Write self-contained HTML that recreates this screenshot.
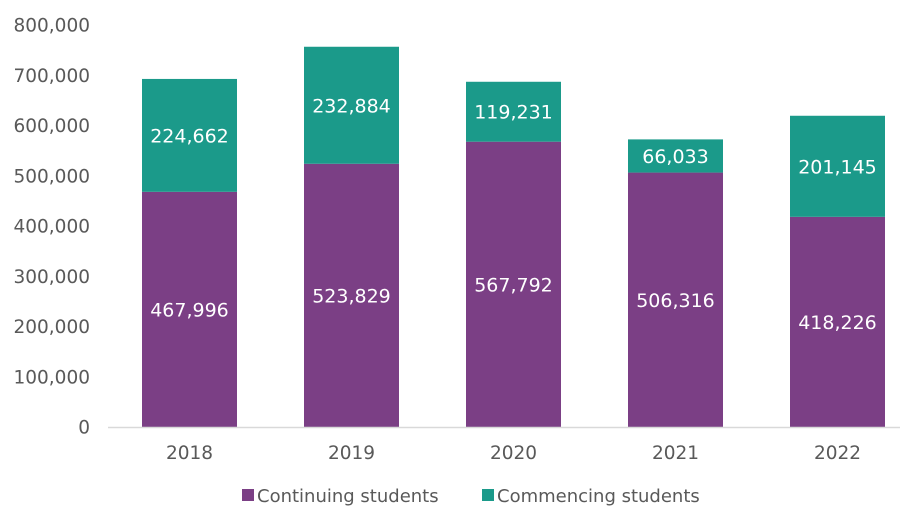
<!DOCTYPE html>
<html><head><meta charset="utf-8"><style>
body{margin:0;background:#fff;}
svg{display:block;font-family:"DejaVu Sans","Liberation Sans",sans-serif;}
</style></head><body>
<svg id="chart" width="900" height="524"></svg>
<script>
const categories=["2018","2019","2020","2021","2022"];
const continuing=[467996,523829,567792,506316,418226];
const commencing=[224662,232884,119231,66033,201145];
const yTicks=[0,100000,200000,300000,400000,500000,600000,700000,800000];
const NS="http://www.w3.org/2000/svg";
const svg=document.getElementById('chart');
const y0=427,y1=25,yMax=800000,xStart=108.5,step=162,barW=95;
const y=v=>y0-(v/yMax)*(y0-y1);
const xc=i=>xStart+step*(i+0.5);
const fmt=v=>v.toLocaleString('en-US');
function mk(tag,attrs,text){const e=document.createElementNS(NS,tag);for(const k in attrs)e.setAttribute(k,attrs[k]);if(text!==undefined)e.textContent=text;svg.appendChild(e);return e;}
yTicks.forEach(t=>{
  const e=mk('text',{x:90,y:y(t)+6.5,'text-anchor':'end','font-size':18.5,fill:'#595959'},fmt(t));
  
  
});
categories.forEach((c,i)=>{
  const x=xc(i)-barW/2;
  const b1=mk('rect',{x:x,y:y(continuing[i]),width:barW,height:y0-y(continuing[i]),fill:'#7b3f85'});
  
  
  const top=continuing[i]+commencing[i];
  const b2=mk('rect',{x:x,y:y(top),width:barW,height:y(continuing[i])-y(top),fill:'#1b9a8a'});
  
  
  const l1=mk('text',{x:xc(i),y:(y0+y(continuing[i]))/2+7,'text-anchor':'middle','font-size':19,fill:'#fff'},fmt(continuing[i]));
  
  
  const l2=mk('text',{x:xc(i),y:(y(continuing[i])+y(top))/2+7,'text-anchor':'middle','font-size':19,fill:'#fff'},fmt(commencing[i]));
  
  
  const xl=mk('text',{x:xc(i),y:459,'text-anchor':'middle','font-size':18.5,fill:'#595959'},c);
  
  
});
const ax=mk('line',{x1:108,x2:900,y1:y0+0.5,y2:y0+0.5,stroke:'#d9d9d9','stroke-width':1.5});


const g1=mk('rect',{x:242,y:489,width:12,height:12,fill:'#7b3f85'});


const t1=mk('text',{x:257,y:502,'font-size':18,fill:'#595959'},'Continuing students');


const g2=mk('rect',{x:482,y:489,width:12,height:12,fill:'#1b9a8a'});


const t2=mk('text',{x:497,y:502,'font-size':18,fill:'#595959'},'Commencing students');


</script>
</body></html>
